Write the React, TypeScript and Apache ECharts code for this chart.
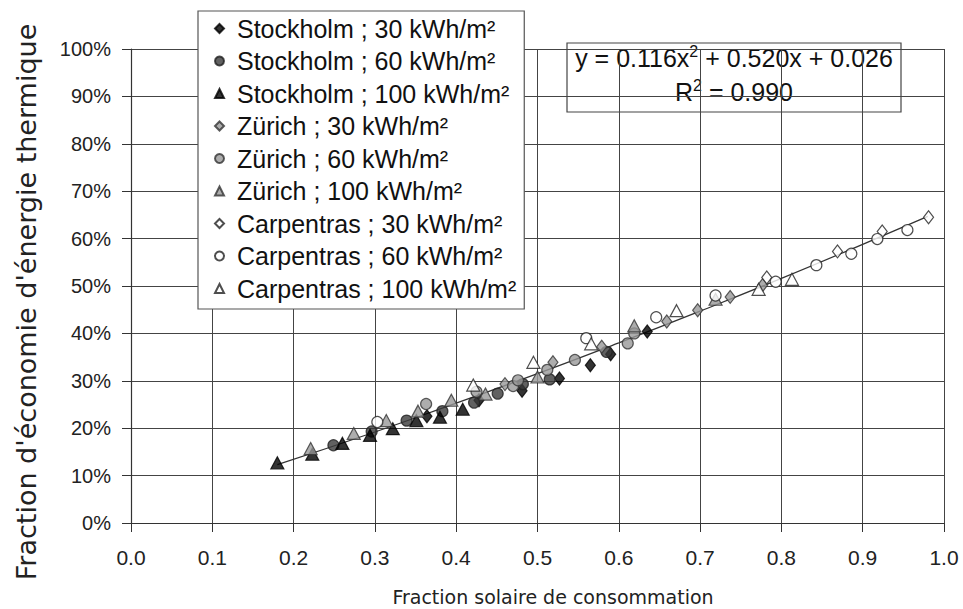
import React, { useEffect, useRef } from "react";
import * as echarts from "echarts";

const stockholm30 = [[0.364,0.225],[0.428,0.259],[0.481,0.279],[0.527,0.305],[0.565,0.333],[0.590,0.356],[0.635,0.404]];
const stockholm60 = [[0.249,0.164],[0.296,0.193],[0.339,0.216],[0.383,0.236],[0.422,0.254],[0.451,0.273],[0.482,0.293],[0.515,0.303],[0.585,0.361]];
const stockholm100 = [[0.180,0.127],[0.223,0.145],[0.260,0.168],[0.294,0.185],[0.322,0.199],[0.351,0.216],[0.380,0.223],[0.408,0.240]];
const zurich30 = [[0.460,0.293],[0.519,0.339],[0.579,0.372],[0.659,0.425],[0.697,0.449],[0.737,0.477],[0.777,0.502]];
const zurich60 = [[0.363,0.251],[0.425,0.277],[0.470,0.289],[0.476,0.301],[0.512,0.323],[0.546,0.344],[0.611,0.379],[0.619,0.400]];
const zurich100 = [[0.221,0.157],[0.274,0.189],[0.314,0.216],[0.353,0.236],[0.394,0.259],[0.436,0.272],[0.500,0.308],[0.619,0.416],[0.719,0.472]];
const carpentras30 = [[0.782,0.518],[0.869,0.573],[0.924,0.615],[0.981,0.645]];
const carpentras60 = [[0.303,0.213],[0.560,0.390],[0.646,0.434],[0.719,0.480],[0.793,0.509],[0.843,0.544],[0.886,0.568],[0.918,0.599],[0.955,0.618]];
const carpentras100 = [[0.421,0.291],[0.495,0.339],[0.566,0.378],[0.671,0.448],[0.772,0.493],[0.813,0.514]];

// trend line points
const trendLine = [[0.18,0.123],[0.3,0.192],[0.4,0.253],[0.5,0.315],[0.6,0.380],[0.7,0.447],[0.8,0.516],[0.9,0.588],[0.98,0.647]];

const seriesNames = [
  "Stockholm ; 30 kWh/m²",
  "Stockholm ; 60 kWh/m²",
  "Stockholm ; 100 kWh/m²",
  "Zürich ; 30 kWh/m²",
  "Zürich ; 60 kWh/m²",
  "Zürich ; 100 kWh/m²",
  "Carpentras ; 30 kWh/m²",
  "Carpentras ; 60 kWh/m²",
  "Carpentras ; 100 kWh/m²",
];

const FONT = "'Liberation Sans', Arial, sans-serif";
const TITLE_FONT = "'DejaVu Sans', sans-serif";

export default function App() {
  const ref = useRef<HTMLDivElement>(null);
  useEffect(() => {
    if (!ref.current) return;
    const chart = echarts.init(ref.current, null, { renderer: "svg" });
    const datasets = [stockholm30, stockholm60, stockholm100, zurich30, zurich60, zurich100, carpentras30, carpentras60, carpentras100];
    const symbols = ["diamond", "circle", "triangle", "diamond", "circle", "triangle", "diamond", "circle", "triangle"];
    const fills = ["#000", "#3a3a3a", "#000", "#999", "#999", "#999", "#fff", "#fff", "#fff"];
    const borders = ["#000", "#222", "#000", "#333", "#333", "#333", "#222", "#222", "#222"];
    const sizes: any[] = [[10, 13], 11, [13, 12], [10, 13], 11, [13, 12], [10, 13], 11, [13, 12]];
    const scatter = datasets.map((d, i) => ({
      name: seriesNames[i],
      type: "scatter",
      data: d,
      symbol: symbols[i],
      symbolSize: sizes[i],
      itemStyle: { color: fills[i], borderColor: borders[i], borderWidth: 1.2 },
      z: 3,
    }));
    const sup = (fs: number, sfs: number) => ({
      n: { fontSize: fs, fontFamily: FONT, fill: "#111", lineHeight: fs + 4 },
      s: { fontSize: sfs, fontFamily: FONT, fill: "#111", verticalAlign: "top" },
    });
    chart.setOption({
      animation: false,
      grid: { left: 131, right: 19, top: 49, bottom: 86 },
      xAxis: {
        type: "value",
        min: 0,
        max: 1,
        interval: 0.1,
        axisLine: { show: true, lineStyle: { color: "#333", width: 1.2 } },
        axisTick: { show: true, inside: false, length: 9, lineStyle: { color: "#333" } },
        splitLine: { show: true, lineStyle: { color: "#444", width: 1 } },
        axisLabel: {
          margin: 24,
          fontSize: 21,
          color: "#222",
          fontFamily: FONT,
          formatter: (v: number) => v.toFixed(1),
        },
      },
      yAxis: {
        type: "value",
        min: 0,
        max: 1,
        interval: 0.1,
        axisLine: { show: true, lineStyle: { color: "#333", width: 1.2 } },
        axisTick: { show: true, inside: false, length: 9, lineStyle: { color: "#333" } },
        splitLine: { show: true, lineStyle: { color: "#444", width: 1 } },
        axisLabel: {
          margin: 20,
          fontSize: 20,
          color: "#222",
          fontFamily: FONT,
          formatter: (v: number) => Math.round(v * 100) + "%",
        },
      },
      legend: {
        orient: "vertical",
        left: 198,
        top: 11,
        backgroundColor: "#fff",
        borderColor: "#555",
        borderWidth: 1.2,
        padding: [5, 8, 8, 16],
        itemGap: 7.5,
        itemWidth: 9,
        itemHeight: 9,
        data: seriesNames,
        textStyle: { fontSize: 25, color: "#111", fontFamily: FONT, padding: [0, 0, 0, 8] },
        z: 10,
      },
      graphic: [
        {
          type: "group",
          z: 20,
          children: [
            {
              type: "rect",
              shape: { x: 567, y: 43, width: 334, height: 69 },
              style: { fill: "#fff", stroke: "#444", lineWidth: 1.2 },
            },
            {
              type: "text",
              x: 734,
              y: 58,
              style: {
                text: "{n|y = 0.116x}{s|2}{n| + 0.520x + 0.026}",
                align: "center",
                verticalAlign: "middle",
                rich: sup(25, 16),
              },
            },
            {
              type: "text",
              x: 734,
              y: 92,
              style: {
                text: "{n|R}{s|2}{n| = 0.990}",
                align: "center",
                verticalAlign: "middle",
                rich: sup(25, 16),
              },
            },
          ],
        },
        {
          type: "text",
          x: 553,
          y: 597,
          style: {
            text: "Fraction solaire de consommation",
            align: "center",
            verticalAlign: "middle",
            fontSize: 19,
            fontFamily: TITLE_FONT,
            fill: "#222",
          },
        },
        {
          type: "text",
          x: 26,
          y: 302,
          rotation: Math.PI / 2,
          style: {
            text: "Fraction d'économie d'énergie thermique",
            align: "center",
            verticalAlign: "middle",
            fontSize: 27,
            fontFamily: TITLE_FONT,
            fill: "#222",
          },
        },
      ],
      series: [
        ...scatter,
        {
          name: "trend",
          type: "line",
          data: trendLine,
          smooth: true,
          symbol: "none",
          lineStyle: { color: "#333", width: 1.3 },
          z: 2,
        },
      ],
    });
    return () => chart.dispose();
  }, []);
  return (
    <div
      ref={ref}
      style={{ position: "fixed", left: 0, top: 0, width: 963, height: 609, background: "#fff" }}
    />
  );
}
